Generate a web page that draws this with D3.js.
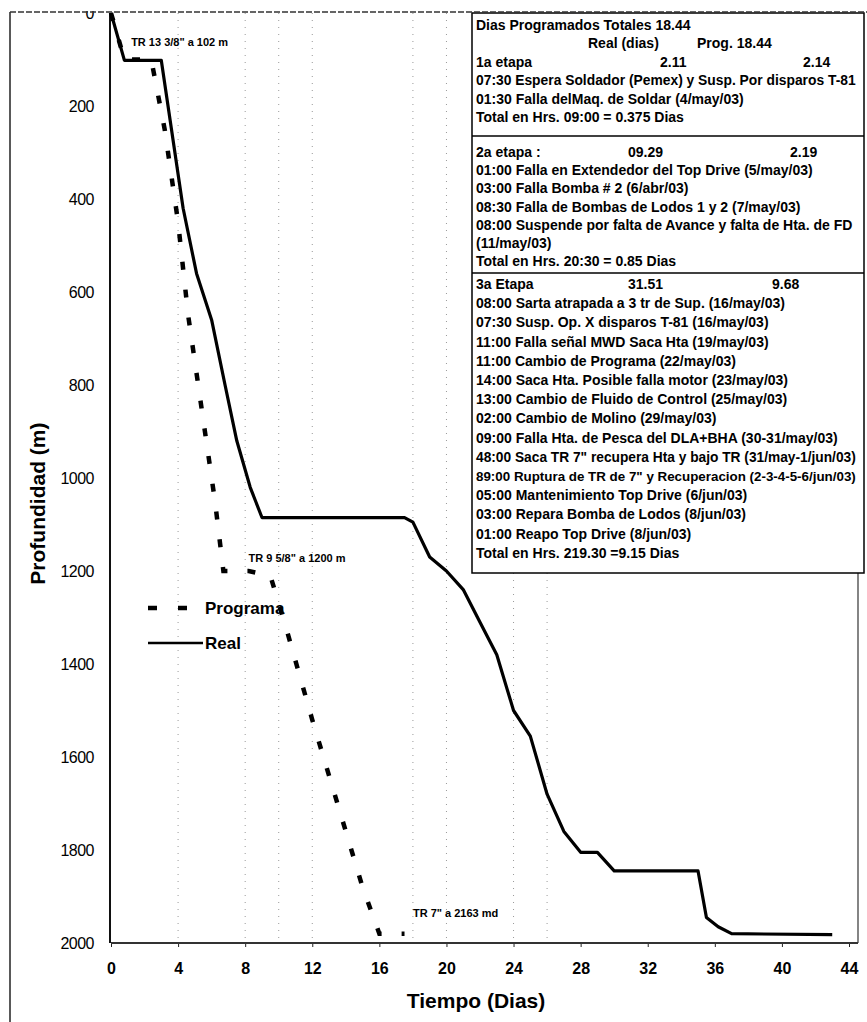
<!DOCTYPE html>
<html>
<head>
<meta charset="utf-8">
<script src="https://cdn.jsdelivr.net/npm/d3@7"></script>
<style>
  body { margin: 0; background: #fff; }
  svg { display: block; }
  text { font-family: "Liberation Sans", Arial, sans-serif; fill: #000; }
</style>
</head>
<body>
<svg id="chart" width="867" height="1022"></svg>
<script>
// Real drilling progress: time (days) vs depth (m)
const realDays  = [0, 0.8, 3.0, 4.3, 5.1, 6.0, 6.8, 7.5, 8.3, 9.0, 17.5, 18.0, 19.0, 20.0, 21.0, 22.0, 23.0, 24.0, 25.0, 26.0, 27.0, 28.0, 29.0, 30.0, 35.0, 35.5, 36.2, 37.0, 43.0];
const realDepth = [0, 102, 102, 420, 560, 660, 800, 920, 1020, 1085, 1085, 1095, 1170, 1200, 1240, 1310, 1380, 1500, 1555, 1680, 1760, 1805, 1805, 1845, 1845, 1945, 1965, 1980, 1982];

// Programmed drilling plan
const progDays  = [0, 0.8, 2.4, 3.2, 4.0, 4.6, 5.4, 6.2, 6.7, 8.2, 9.5, 10.5, 12.0, 13.5, 15.0, 16.0, 17.5];
const progDepth = [0, 100, 100, 250, 450, 650, 850, 1050, 1200, 1200, 1210, 1330, 1520, 1700, 1880, 1980, 1980];

const xTicks = [0, 4, 8, 12, 16, 20, 24, 28, 32, 36, 40, 44];
const yTicks = [0, 200, 400, 600, 800, 1000, 1200, 1400, 1600, 1800, 2000];
const gridDays = [4, 8, 10, 12, 18, 20, 24, 26];

const casingLabels = ['TR 13 3/8" a 102 m', 'TR 9 5/8" a 1200 m', 'TR 7" a 2163 md'];
const legendLabels = ['Programa', 'Real'];

// Time summary table, one array per stage
const stage1Lines = [
  'Dias Programados Totales 18.44',
  '',
  '',
  '07:30 Espera Soldador (Pemex) y Susp. Por disparos T-81',
  '01:30 Falla delMaq. de Soldar  (4/may/03)',
  'Total en Hrs. 09:00 = 0.375 Dias'
];
const stage2Lines = [
  '',
  '01:00 Falla en Extendedor del Top Drive (5/may/03)',
  '03:00 Falla Bomba # 2 (6/abr/03)',
  '08:30 Falla de Bombas de Lodos 1 y 2  (7/may/03)',
  '08:00 Suspende por falta de Avance y falta de Hta. de FD',
  '(11/may/03)',
  'Total en Hrs. 20:30  = 0.85 Dias'
];
const stage3Lines = [
  '',
  '08:00 Sarta atrapada a 3 tr de Sup. (16/may/03)',
  '07:30 Susp. Op. X disparos T-81 (16/may/03)',
  '11:00 Falla señal MWD Saca Hta (19/may/03)',
  '11:00 Cambio de Programa  (22/may/03)',
  '14:00 Saca Hta. Posible falla motor (23/may/03)',
  '13:00 Cambio de Fluido de Control (25/may/03)',
  '02:00 Cambio de Molino (29/may/03)',
  '09:00 Falla Hta. de Pesca del DLA+BHA (30-31/may/03)',
  '48:00 Saca TR 7" recupera Hta y bajo TR (31/may-1/jun/03)',
  '89:00 Ruptura de TR de 7"  y Recuperacion (2-3-4-5-6/jun/03)',
  '05:00 Mantenimiento Top Drive (6/jun/03)',
  '03:00 Repara Bomba de Lodos (8/jun/03)',
  '01:00 Reapo Top Drive (8/jun/03)',
  'Total en Hrs. 219.30  =9.15 Dias'
];
// Column headers and stage totals: [label, real days, programmed days]
const columnHeader = ['Real (dias)', 'Prog. 18.44'];
const stageTotals = [
  ['1a etapa', '2.11', '2.14'],
  ['2a etapa :', '09.29', '2.19'],
  ['3a Etapa', '31.51', '9.68']
];

const svg = d3.select('#chart');

const x = d3.scaleLinear().domain([0, 44]).range([111, 849]);
const y = d3.scaleLinear().domain([0, 2000]).range([13, 943]);

// faint dotted vertical guides
svg.append('g').selectAll('line').data(gridDays).join('line')
  .attr('x1', d => x(d)).attr('x2', d => x(d))
  .attr('y1', y(0)).attr('y2', y(2000))
  .attr('stroke', '#999').attr('stroke-width', 1)
  .attr('stroke-dasharray', '1,6');

// plot box right edge
svg.append('line').attr('x1', 858).attr('x2', 858).attr('y1', y(0)).attr('y2', y(2000))
  .attr('stroke', '#333').attr('stroke-width', 1.2);

// x axis
const xAxis = d3.axisBottom(x).tickValues(xTicks).tickSize(4).tickFormat(d3.format('d'));
const gx = svg.append('g').attr('transform', `translate(0,${y(2000)})`).call(xAxis);
gx.select('.domain').remove();
gx.selectAll('line').attr('stroke', '#222');
gx.selectAll('text').attr('dy', 0).attr('y', 31)
  .style('font-size', '16px').style('font-weight', 'bold');
svg.append('line').attr('x1', x(0)).attr('x2', 858).attr('y1', y(2000)).attr('y2', y(2000))
  .attr('stroke', '#333').attr('stroke-width', 2);

// y axis
const yAxis = d3.axisLeft(y).tickValues(yTicks).tickSize(0).tickFormat(d3.format('d'));
const gy = svg.append('g').attr('transform', `translate(${x(0) - 1},0)`).call(yAxis);
gy.select('.domain').remove();
gy.selectAll('text').attr('x', -16).attr('dy', '0.35em')
  .style('font-size', '16px').style('letter-spacing', '-0.5px');
svg.append('line').attr('x1', x(0) - 1).attr('x2', x(0) - 1).attr('y1', y(0)).attr('y2', y(2000))
  .attr('stroke', '#111').attr('stroke-width', 2);

// axis titles
svg.append('text').attr('x', 476).attr('y', 1008).attr('text-anchor', 'middle')
  .style('font-size', '21px').style('font-weight', 'bold').text('Tiempo (Dias)');
svg.append('text').attr('transform', `translate(45,${y(1055)}) rotate(-90)`)
  .attr('text-anchor', 'middle')
  .style('font-size', '21px').style('font-weight', 'bold').text('Profundidad (m)');

// series
const line = d3.line().x(d => x(d[0])).y(d => y(d[1]));
const progData = progDays.map((d, i) => [d, progDepth[i]]);
const realData = realDays.map((d, i) => [d, realDepth[i]]);

svg.append('path').datum(progData).attr('d', line)
  .attr('fill', 'none').attr('stroke', '#000').attr('stroke-width', 4.5)
  .attr('stroke-dasharray', '8,20');
svg.append('path').datum(realData).attr('d', line)
  .attr('fill', 'none').attr('stroke', '#000').attr('stroke-width', 3.2)
  .attr('stroke-linejoin', 'round');

// casing point labels
const noteStyle = s => s.style('font-size', '11px').style('font-weight', 'bold');
svg.append('text').attr('x', x(1.2)).attr('y', y(70)).call(noteStyle).text(casingLabels[0]);
svg.append('text').attr('x', x(8.2)).attr('y', y(1180)).call(noteStyle).text(casingLabels[1]);
svg.append('text').attr('x', x(18)).attr('y', y(1945)).call(noteStyle).text(casingLabels[2]);

// legend
const lg = svg.append('g');
lg.append('line').attr('x1', 148).attr('x2', 192).attr('y1', 608).attr('y2', 608)
  .attr('stroke', '#000').attr('stroke-width', 4.5).attr('stroke-dasharray', '9,21');
lg.append('text').attr('x', 205).attr('y', 614).style('font-size', '17px')
  .style('font-weight', 'bold').text(legendLabels[0]);
lg.append('line').attr('x1', 148).attr('x2', 203).attr('y1', 643).attr('y2', 643)
  .attr('stroke', '#000').attr('stroke-width', 2.5);
lg.append('text').attr('x', 205).attr('y', 649).style('font-size', '17px')
  .style('font-weight', 'bold').text(legendLabels[1]);

// summary table
const box = svg.append('g');
box.append('rect').attr('x', 472).attr('y', 13).attr('width', 392).attr('height', 560)
  .attr('fill', '#fff').attr('stroke', '#000').attr('stroke-width', 1.5);
box.append('line').attr('x1', 472).attr('x2', 864).attr('y1', 136).attr('y2', 136)
  .attr('stroke', '#000').attr('stroke-width', 1.5);
box.append('line').attr('x1', 472).attr('x2', 864).attr('y1', 273).attr('y2', 273)
  .attr('stroke', '#000').attr('stroke-width', 1.5);

const baseFont = 14;
const maxTextWidth = 380;
const tStyle = s => s.style('font-size', baseFont + 'px').style('font-weight', 'bold');
function writeLines(lines, top, rowH) {
  lines.forEach((t, i) => {
    if (!t) return;
    const el = box.append('text').attr('x', 476).attr('y', top + i * rowH).call(tStyle).text(t);
    // shrink lines that would run past the table edge
    const w = el.node().getComputedTextLength();
    if (w > maxTextWidth) {
      el.style('font-size', (baseFont * maxTextWidth / w).toFixed(2) + 'px');
    }
  });
}
const s1Top = 30, s1Row = 18.4;
const s2Top = 157, s2Row = 18.2;
const s3Top = 289, s3Row = 19.2;
writeLines(stage1Lines, s1Top, s1Row);
writeLines(stage2Lines, s2Top, s2Row);
writeLines(stage3Lines, s3Top, s3Row);

box.append('text').attr('x', 588).attr('y', s1Top + s1Row).call(tStyle).text(columnHeader[0]);
box.append('text').attr('x', 697).attr('y', s1Top + s1Row).call(tStyle).text(columnHeader[1]);
const totalRows = [s1Top + 2 * s1Row, s2Top, s3Top];
const realCol = [660, 628, 628];
const progCol = [803, 790, 772];
totalRows.forEach((yy, i) => {
  box.append('text').attr('x', 476).attr('y', yy).call(tStyle).text(stageTotals[i][0]);
  box.append('text').attr('x', realCol[i]).attr('y', yy).call(tStyle).text(stageTotals[i][1]);
  box.append('text').attr('x', progCol[i]).attr('y', yy).call(tStyle).text(stageTotals[i][2]);
});

// top margin and outer frame
svg.append('rect').attr('x', 0).attr('y', 0).attr('width', 867).attr('height', 11).attr('fill', '#fff');
svg.append('line').attr('x1', 10).attr('x2', 10).attr('y1', 12).attr('y2', 1022)
  .attr('stroke', '#222').attr('stroke-width', 1.5);
svg.append('line').attr('x1', 10).attr('x2', 867).attr('y1', 12).attr('y2', 12)
  .attr('stroke', '#333').attr('stroke-width', 1.5).attr('stroke-dasharray', '6,2');
</script>
</body>
</html>
